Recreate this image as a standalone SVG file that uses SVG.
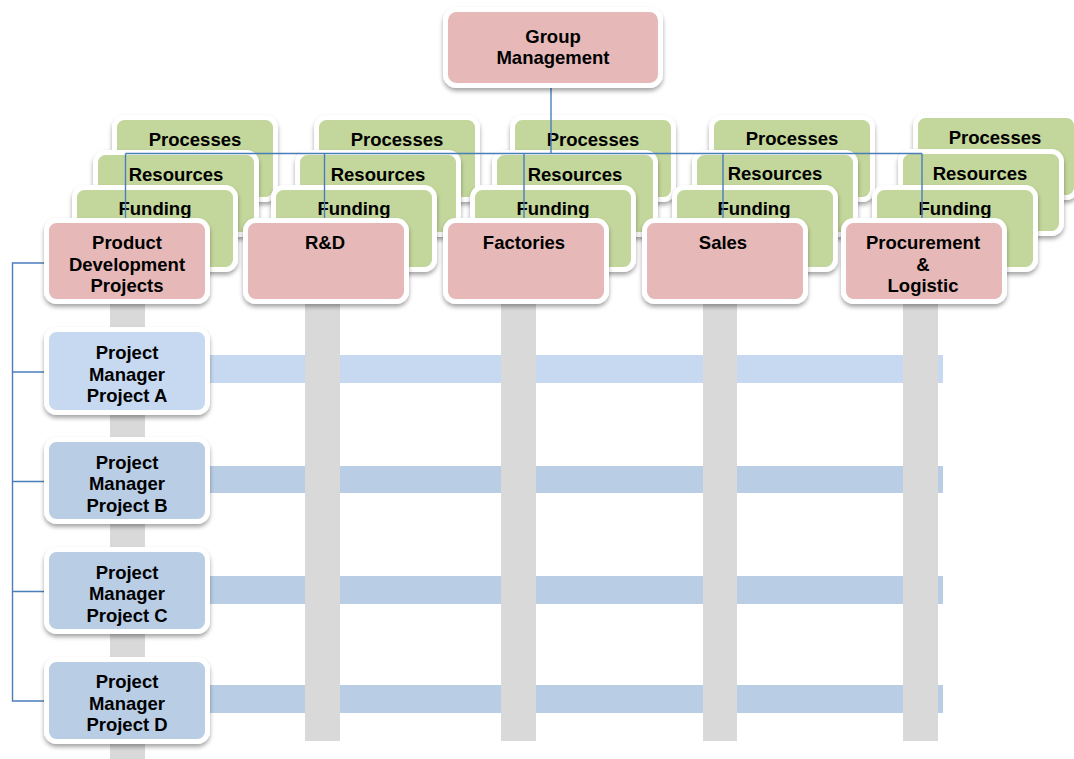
<svg xmlns="http://www.w3.org/2000/svg" width="1074" height="759" viewBox="0 0 1074 759">
<defs>
<filter id="sh" x="-10%" y="-10%" width="120%" height="130%">
<feDropShadow dx="0" dy="3" stdDeviation="2.2" flood-color="#000" flood-opacity="0.35"/>
</filter>
<style>
.box{stroke:#fff;stroke-width:5;filter:url(#sh)}
.pink{fill:#e6b9b8}
.green{fill:#c3d69b}
.pa{fill:#c6d9f0}
.pb{fill:#b9cde5}
.gbar{fill:#d9d9d9}
.bba{fill:#c6d9f0}
.bbb{fill:#b9cde5}
text{font-family:"Liberation Sans",Arial,sans-serif;font-weight:bold;font-size:18.5px;fill:#000;text-anchor:middle}
.conn{fill:none;stroke:#4a7ebb;stroke-width:1.4}
</style>
</defs>
<rect width="1074" height="759" fill="#fff"/>
<g id="bars">
<rect class="bba" x="208" y="355" width="735" height="28"/>
<rect class="bbb" x="208" y="466" width="735" height="27"/>
<rect class="bbb" x="208" y="576" width="735" height="28"/>
<rect class="bbb" x="208" y="685" width="735" height="28"/>
<rect class="gbar" x="110" y="300" width="35" height="459"/>
<rect class="gbar" x="305" y="300" width="35" height="441"/>
<rect class="gbar" x="501" y="300" width="35" height="441"/>
<rect class="gbar" x="703" y="300" width="34" height="441"/>
<rect class="gbar" x="903" y="300" width="35" height="441"/>
</g>
<g id="col1-support">
<g id="c1-processes"><rect class="box green" x="114.5" y="117.5" width="161" height="82" rx="10"/><text x="195" y="146">Processes</text></g>
<g id="c1-resources"><rect class="box green" x="95.5" y="152.5" width="161" height="82" rx="10"/><text x="176" y="181">Resources</text></g>
<g id="c1-funding"><rect class="box green" x="74.5" y="187.5" width="161" height="82" rx="10"/><text x="155" y="215">Funding</text></g>
</g>
<g id="col2-support">
<g id="c2-processes"><rect class="box green" x="316.5" y="117.5" width="161" height="82" rx="10"/><text x="397" y="146">Processes</text></g>
<g id="c2-resources"><rect class="box green" x="297.5" y="152.5" width="161" height="82" rx="10"/><text x="378" y="181">Resources</text></g>
<g id="c2-funding"><rect class="box green" x="273.5" y="187.5" width="161" height="82" rx="10"/><text x="354" y="215">Funding</text></g>
</g>
<g id="col3-support">
<g id="c3-processes"><rect class="box green" x="512.5" y="117.5" width="161" height="82" rx="10"/><text x="593" y="146">Processes</text></g>
<g id="c3-resources"><rect class="box green" x="494.5" y="152.5" width="161" height="82" rx="10"/><text x="575" y="181">Resources</text></g>
<g id="c3-funding"><rect class="box green" x="472.5" y="187.5" width="161" height="82" rx="10"/><text x="553" y="215">Funding</text></g>
</g>
<g id="col4-support">
<g id="c4-processes"><rect class="box green" x="711.5" y="117.5" width="161" height="82" rx="10"/><text x="792" y="145">Processes</text></g>
<g id="c4-resources"><rect class="box green" x="694.5" y="152.5" width="161" height="82" rx="10"/><text x="775" y="180">Resources</text></g>
<g id="c4-funding"><rect class="box green" x="674.5" y="187.5" width="161" height="82" rx="10"/><text x="754" y="215">Funding</text></g>
</g>
<g id="col5-support">
<g id="c5-processes"><rect class="box green" x="915.5" y="115.5" width="161" height="82" rx="10"/><text x="995" y="144">Processes</text></g>
<g id="c5-resources"><rect class="box green" x="900.5" y="151.5" width="161" height="82" rx="10"/><text x="980" y="180">Resources</text></g>
<g id="c5-funding"><rect class="box green" x="874.5" y="187.5" width="161" height="82" rx="10"/><text x="955" y="215">Funding</text></g>
</g>
<g id="connectors">
<path class="conn" d="M551,88 V153.5"/>
<path class="conn" d="M125.5,153.5 H922"/>
<path class="conn" d="M125.5,153.5 V222"/>
<path class="conn" d="M324.5,153.5 V222"/>
<path class="conn" d="M524,153.5 V222"/>
<path class="conn" d="M723,153.5 V222"/>
<path class="conn" d="M922,153.5 V222"/>
<path class="conn" d="M48,263 H12.5 V701 H48"/>
<path class="conn" d="M12.5,372 H48"/>
<path class="conn" d="M12.5,481.5 H48"/>
<path class="conn" d="M12.5,591.5 H48"/>
</g>
<g id="group-management"><rect class="box pink" x="445.5" y="9.5" width="215" height="76" rx="11"/><text x="553" y="43">Group</text><text x="553" y="64">Management</text></g>
<g id="product-development"><rect class="box pink" x="46.5" y="220.5" width="161" height="81" rx="10"/><text x="127" y="249">Product</text><text x="127" y="270.5">Development</text><text x="127" y="292">Projects</text></g>
<g id="rd"><rect class="box pink" x="245.5" y="220.5" width="161" height="81" rx="10"/><text x="325" y="249">R&amp;D</text></g>
<g id="factories"><rect class="box pink" x="445.5" y="220.5" width="161" height="81" rx="10"/><text x="524" y="249">Factories</text></g>
<g id="sales"><rect class="box pink" x="644.5" y="220.5" width="161" height="81" rx="10"/><text x="723" y="249">Sales</text></g>
<g id="procurement"><rect class="box pink" x="843.5" y="220.5" width="161" height="81" rx="10"/><text x="923" y="249">Procurement</text><text x="923" y="270.5">&amp;</text><text x="923" y="292">Logistic</text></g>
<g id="project-a"><rect class="box pa" x="46.5" y="329.5" width="161" height="83" rx="10"/><text x="127" y="359">Project</text><text x="127" y="380.5">Manager</text><text x="127" y="402">Project A</text></g>
<g id="project-b"><rect class="box pb" x="46.5" y="439.5" width="161" height="82" rx="10"/><text x="127" y="468.5">Project</text><text x="127" y="490">Manager</text><text x="127" y="511.5">Project B</text></g>
<g id="project-c"><rect class="box pb" x="46.5" y="549.5" width="161" height="82" rx="10"/><text x="127" y="578.5">Project</text><text x="127" y="600">Manager</text><text x="127" y="621.5">Project C</text></g>
<g id="project-d"><rect class="box pb" x="46.5" y="659.5" width="161" height="82" rx="10"/><text x="127" y="688">Project</text><text x="127" y="709.5">Manager</text><text x="127" y="731">Project D</text></g>
</svg>
